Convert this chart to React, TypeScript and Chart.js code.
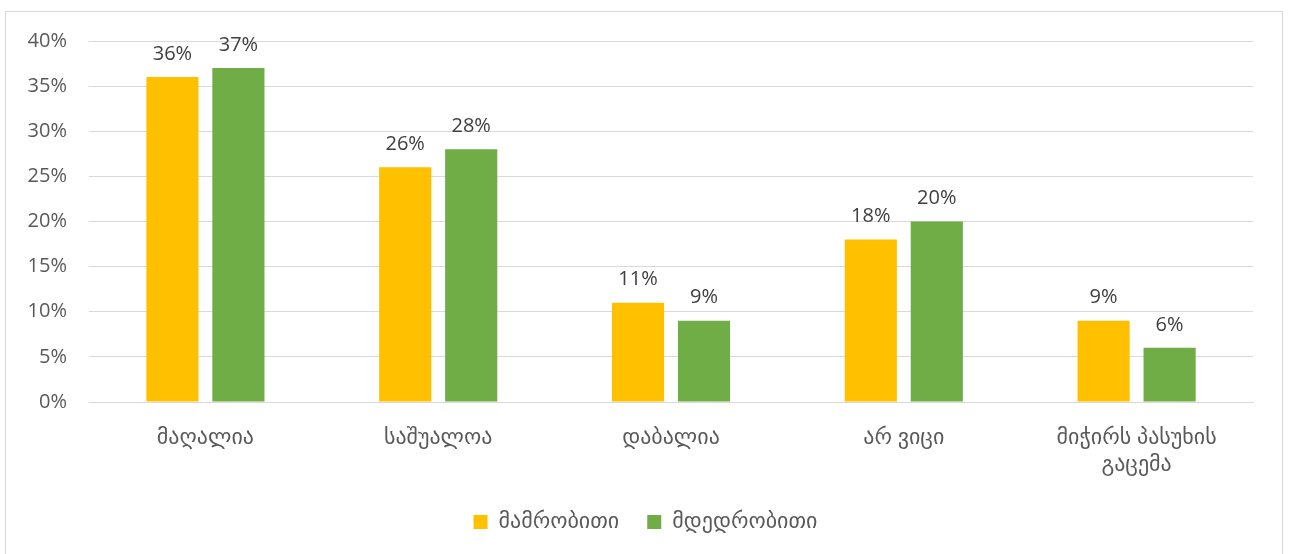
import React, { useEffect, useRef } from "react";
import { Chart, registerables } from "chart.js";

Chart.register(...registerables);

const categories: (string | string[])[] = [
  "მაღალია",
  "საშუალოა",
  "დაბალია",
  "არ ვიცი",
  ["მიჭირს პასუხის", "გაცემა"],
];
const maleValues = [36, 26, 11, 18, 9];
const femaleValues = [37, 28, 9, 20, 6];
const seriesNames = ["მამრობითი", "მდედრობითი"];
const yTicks = [0, 5, 10, 15, 20, 25, 30, 35, 40];

const FONT = "'Open Sans', 'DejaVu Sans', sans-serif";

const dataLabelPlugin = {
  id: "dataLabels",
  afterDatasetsDraw(chart: any) {
    const ctx = chart.ctx;
    ctx.save();
    ctx.font = `20px ${FONT}`;
    ctx.fillStyle = "#404040";
    ctx.textAlign = "center";
    ctx.textBaseline = "bottom";
    chart.data.datasets.forEach((ds: any, i: number) => {
      const meta = chart.getDatasetMeta(i);
      meta.data.forEach((bar: any, j: number) => {
        ctx.fillText(ds.data[j] + "%", bar.x, bar.y - 13);
      });
    });
    ctx.restore();
  },
};

export default function App() {
  const ref = useRef<HTMLCanvasElement | null>(null);
  useEffect(() => {
    document.body.style.margin = "0";
    const chart = new Chart(ref.current as HTMLCanvasElement, {
      type: "bar",
      data: {
        labels: categories,
        datasets: [
          {
            label: seriesNames[0],
            data: maleValues,
            backgroundColor: "#FFC000",
            categoryPercentage: 0.567,
            barPercentage: 0.79,
          },
          {
            label: seriesNames[1],
            data: femaleValues,
            backgroundColor: "#70AD47",
            categoryPercentage: 0.567,
            barPercentage: 0.79,
          },
        ],
      },
      options: {
        animation: false,
        responsive: false,
        maintainAspectRatio: false,
        layout: { padding: { top: 41, right: 0, bottom: 11, left: 0 } },
        plugins: {
          tooltip: { enabled: false },
          legend: {
            position: "bottom",
            labels: {
              font: { family: FONT, size: 22 },
              color: "#595959",
              boxWidth: 14,
              boxHeight: 14,
              padding: 28,
            },
          },
        },
        scales: {
          x: {
            grid: { display: false, drawTicks: false },
            border: { display: true, color: "#d9d9d9" },
            ticks: {
              font: { family: FONT, size: 22 },
              color: "#595959",
              padding: 23,
              maxRotation: 0,
              autoSkip: false,
            },
            afterFit(scale: any) {
              scale.height = 81;
            },
          },
          y: {
            min: 0,
            max: 40,
            afterBuildTicks(scale: any) {
              scale.ticks = yTicks.map((v) => ({ value: v }));
            },
            grid: { color: "#d9d9d9", drawTicks: false },
            border: { display: false },
            ticks: {
              font: { family: FONT, size: 20 },
              color: "#595959",
              padding: 22,
              callback: (v: any) => v + "%",
            },
            afterFit(scale: any) {
              scale.width = 89;
            },
          },
          yRight: {
            position: "right",
            display: true,
            min: 0,
            max: 40,
            grid: { display: false, drawTicks: false },
            border: { display: false },
            ticks: { display: false },
            afterFit(scale: any) {
              scale.width = 38;
            },
          },
        },
      },
      plugins: [dataLabelPlugin],
    } as any);
    return () => chart.destroy();
  }, []);
  return (
    <div style={{ position: "relative", width: 1291, height: 554, background: "#fff", overflow: "hidden" }}>
      <div
        style={{
          position: "absolute",
          left: 5,
          top: 11,
          width: 1276,
          height: 600,
          border: "1px solid #d9d9d9",
        }}
      />
      <canvas ref={ref} width={1291} height={554} style={{ position: "absolute", left: 0, top: 0 }} />
    </div>
  );
}
